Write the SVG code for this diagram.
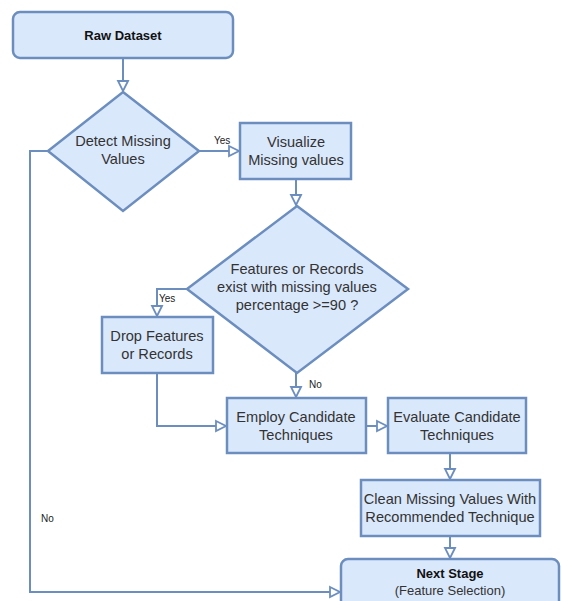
<svg xmlns="http://www.w3.org/2000/svg" width="562" height="601" viewBox="0 0 562 601">
<defs>
<style>
.n{fill:#dae8fc;stroke:#6c8ebf;stroke-width:2.5}
.t{font-family:"Liberation Sans",Arial,sans-serif;font-size:14.6px;fill:#333;text-anchor:middle}
.b{font-weight:bold;font-size:13px;fill:#111}
.l{font-family:"Liberation Sans",Arial,sans-serif;font-size:10px;fill:#222}
.c{fill:none;stroke:#6c8ebf;stroke-width:2;marker-end:url(#a)}
</style>
<marker id="a" viewBox="-1 -1 12 12" refX="10" refY="5" markerWidth="12" markerHeight="12" markerUnits="userSpaceOnUse" orient="auto" overflow="visible">
<path d="M0,0 L10,5 L0,10 Z" fill="#fff" stroke="#6c8ebf" stroke-width="1.8"/>
</marker>
</defs>
<rect width="562" height="601" fill="#fff"/>
<g id="connectors">
<path class="c" d="M123,58 V91"/>
<path class="c" d="M199,151 H239"/>
<path class="c" d="M296,179 V205"/>
<path class="c" d="M187,289 H157 V316"/>
<path class="c" d="M296,373 V397"/>
<path class="c" d="M157,373 V426 H226"/>
<path class="c" d="M366,426 H387"/>
<path class="c" d="M450,453 V479"/>
<path class="c" d="M450,536 V558"/>
<path class="c" d="M48,151 H30 V592 H340"/>
<text class="l" x="214" y="144">Yes</text>
<text class="l" x="159" y="302">Yes</text>
<text class="l" x="309" y="388">No</text>
<text class="l" x="41" y="522">No</text>
</g>
<g id="raw">
<rect class="n" x="13" y="12" width="220" height="46" rx="7"/>
<text class="t b" x="123" y="40">Raw Dataset</text>
</g>
<g id="detect">
<polygon class="n" points="123,92 199,151 123,211 48,151" stroke-width="2"/>
<text class="t" x="123" y="146">Detect Missing</text>
<text class="t" x="123" y="164">Values</text>
</g>
<g id="visualize">
<rect class="n" x="240" y="123" width="111" height="56" stroke-width="3"/>
<text class="t" x="296" y="147">Visualize</text>
<text class="t" x="296" y="165">Missing values</text>
</g>
<g id="decision">
<polygon class="n" points="297,206 408,289 297,373 187,289" stroke-width="2"/>
<text class="t" x="297" y="274">Features or Records</text>
<text class="t" x="297" y="292">exist with missing values</text>
<text class="t" x="297" y="310">percentage &gt;=90 ?</text>
</g>
<g id="drop">
<rect class="n" x="102" y="317" width="111" height="56"/>
<text class="t" x="157" y="341">Drop Features</text>
<text class="t" x="157" y="359">or Records</text>
</g>
<g id="employ">
<rect class="n" x="227" y="398" width="139" height="55"/>
<text class="t" x="296" y="422">Employ Candidate</text>
<text class="t" x="296" y="440">Techniques</text>
</g>
<g id="evaluate">
<rect class="n" x="388" y="398" width="138" height="55"/>
<text class="t" x="457" y="422">Evaluate Candidate</text>
<text class="t" x="457" y="440">Techniques</text>
</g>
<g id="clean">
<rect class="n" x="361" y="480" width="179" height="56"/>
<text class="t" x="450" y="504">Clean Missing Values With</text>
<text class="t" x="450" y="522">Recommended Technique</text>
</g>
<g id="next">
<rect class="n" x="341" y="559" width="218" height="50" rx="7"/>
<text class="t b" x="450" y="578">Next Stage</text>
<text class="t" x="450" y="595" style="font-size:13px">(Feature Selection)</text>
</g>
</svg>
